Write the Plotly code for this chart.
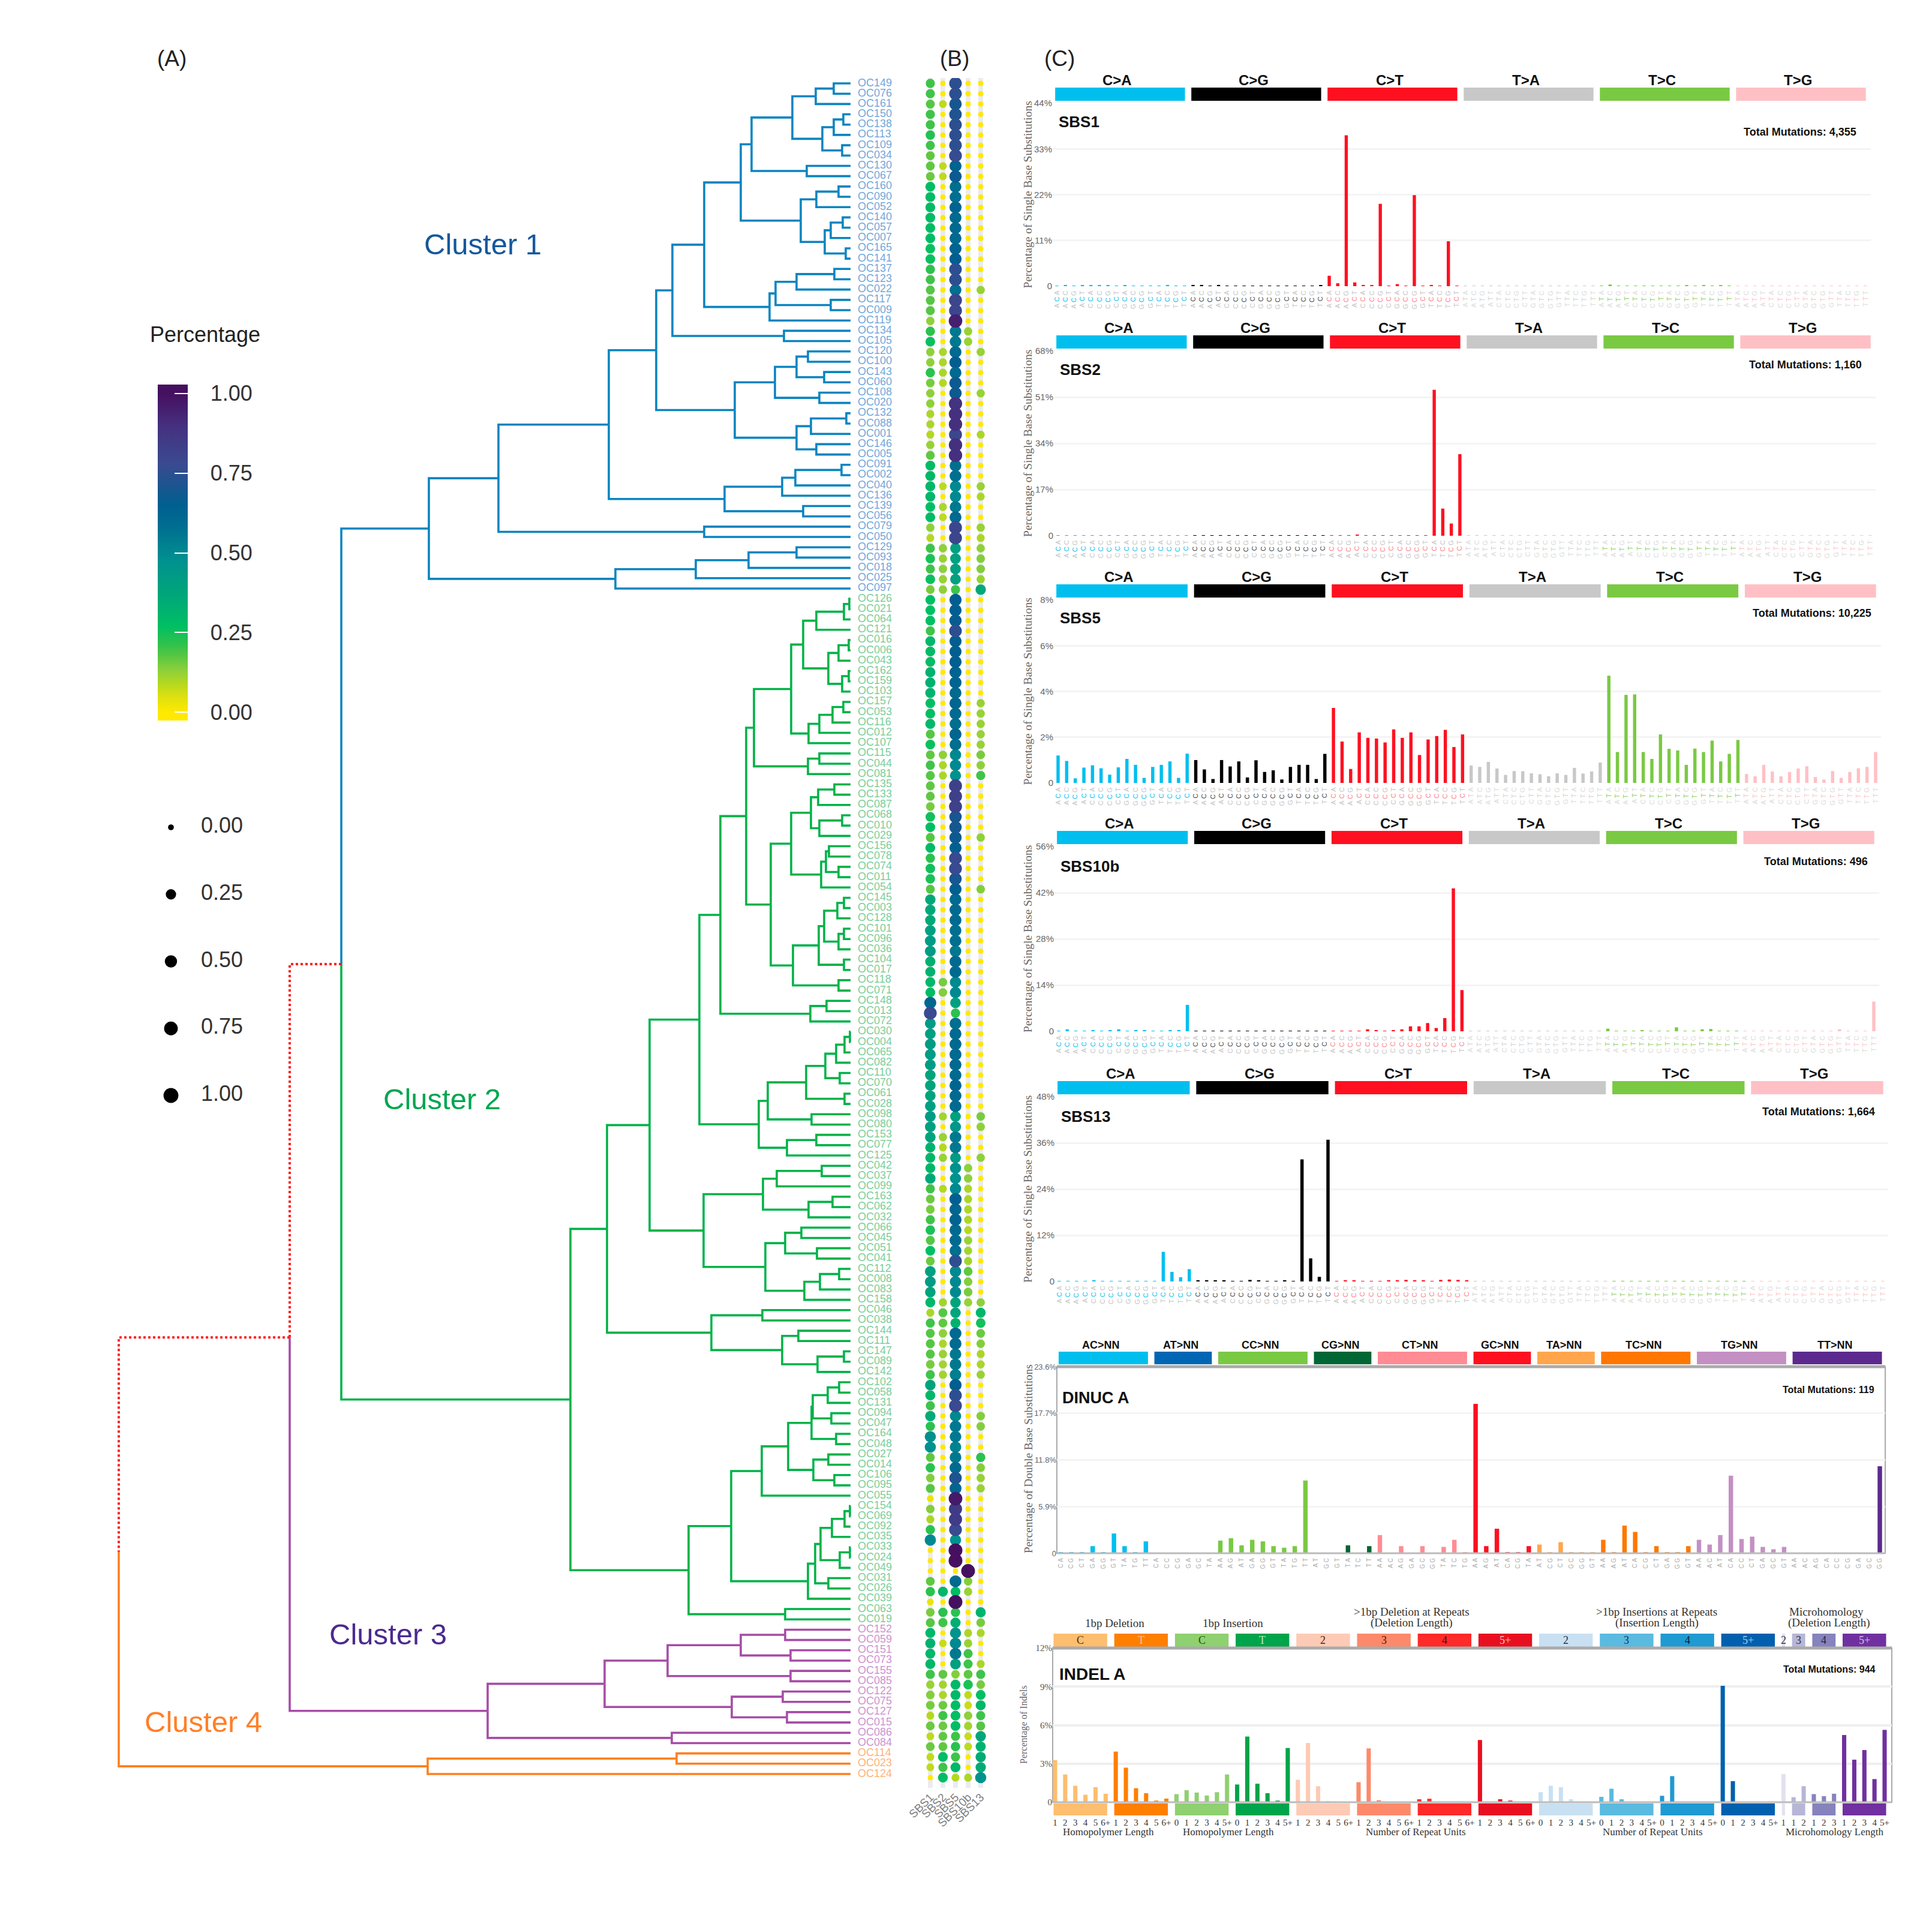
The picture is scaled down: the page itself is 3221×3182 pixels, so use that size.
import plotly.graph_objects as go

W, H = 3221, 3182
SANS = "Liberation Sans"
SERIF = "Liberation Serif"

# ---------- dendrogram: [merge height, upper child, lower child] ----------
B1 = [165, [97, [58, [28, "OC149", "OC076"], "OC161"], [47, [28, [12, "OC150", "OC138"], "OC113"], [14, "OC109", "OC034"]]], [73, "OC130", "OC067"]]
B2 = [83, [57, [20, "OC160", "OC090"], "OC052"], [43, [33, [13, "OC140", "OC057"], "OC007"], [8, "OC165", "OC141"]]]
B3 = [135, [125, [90, [27, "OC137", "OC123"], "OC022"], [33, "OC117", "OC009"]], "OC119"]
B4 = [297, [244, [183, B1, B2], B3], [111, "OC134", "OC105"]]
B5 = [193, [126, [90, [71, "OC120", "OC100"], [44, "OC143", "OC060"]], [52, "OC108", "OC020"]], [90, [66, [7, "OC132", "OC088"], "OC001"], [57, "OC146", "OC005"]]]
B6 = [210, [114, [92, [15, "OC091", "OC002"], "OC040"], "OC136"], [79, "OC139", "OC056"]]
B7 = [244, "OC079", "OC050"]
B8 = [392, [258, [170, [90, "OC129", "OC093"], "OC018"], "OC025"], "OC097"]
BLUE = [703, [587, [403, [324, B4, B5], B6], B7], B8]

G1 = [99, [79, [57, [11, [2, "OC126", "OC021"], "OC064"], "OC121"], [37, [20, [3, "OC016", "OC006"], "OC043"], [14, [3, "OC162", "OC159"], "OC103"]]], [70, [52, [30, [12, "OC157", "OC053"], "OC116"], "OC012"], "OC107"]]
G2 = [71, [52, "OC115", "OC044"], "OC081"]
G3 = [99, [66, [54, [27, "OC135", "OC133"], "OC087"], [52, [14, "OC068", "OC010"], "OC029"]], [49, [41, [36, "OC156", "OC078"], [20, "OC074", "OC011"]], "OC054"]]
G4 = [96, [53, [44, [22, [11, "OC145", "OC003"], "OC128"], [20, [11, "OC101", "OC096"], "OC036"]], [11, "OC104", "OC017"]], [20, "OC118", "OC071"]]
G5 = [67, [40, "OC148", "OC013"], "OC072"]
G6 = [153, [138, [74, [42, [24, [10, [1, "OC030", "OC004"], "OC065"], "OC082"], [18, "OC110", "OC070"]], [10, "OC061", "OC028"]], [65, "OC098", "OC080"]], [106, [57, "OC153", "OC077"], "OC125"]]
G7 = [245, [146, [123, [48, "OC042", "OC037"], "OC099"], [70, [30, "OC163", "OC062"], "OC032"]], [142, [109, [82, "OC066", "OC045"], [56, "OC051", "OC041"]], [77, [51, [19, "OC112", "OC008"], "OC083"], "OC158"]]]
G8 = [232, [147, "OC046", "OC038"], [114, [87, "OC144", "OC111"], [55, [11, "OC147", "OC089"], "OC142"]]]
G9 = [148, [104, [65, [63, [38, [19, "OC102", "OC058"], "OC131"], [32, "OC094", "OC047"]], [24, "OC164", "OC048"]], [62, [37, "OC027", "OC014"], [27, "OC106", "OC095"]]], "OC055"]
G10 = [71, [59, [50, [31, [10, [1, "OC154", "OC069"], "OC092"], "OC035"], [18, [1, "OC033", "OC024"], "OC049"]], [37, "OC031", "OC026"]], "OC039"]
G11 = [109, "OC063", "OC019"]
GREEN = [467, [406, [335, [252, [217, [174, [161, G1, G2], [133, G3, G4]], G5], G6], G7], G8], [270, [199, G9, G10], G11]]

PURPLE = [605, [410, [305, [183, [109, "OC152", "OC059"], [100, "OC151", "OC073"]], [100, "OC155", "OC085"]], [198, [113, "OC122", "OC075"], [106, "OC127", "OC015"]]], [298, "OC086", "OC084"]]
ORANGE = [705, [290, "OC114", "OC023"], "OC124"]
ROOT = [1220, [935, [849, BLUE, GREEN], PURPLE], ORANGE]

# ---------- dot matrix, rows in leaf order ----------
SBS1_PCT = [
 .2,.2,.18,.2,.2,.23,.2,.17,.17,.16,.28,.28,.28,.28,.28,.28,.26,.26,.22,.2,
 .18,.18,.18,.13,.22,.26,.13,.13,.22,.15,.13,.13,.1,.1,.09,.12,.17,.28,.3,.3,
 .3,.27,.28,.13,.09,.2,.24,.2,.26,.15,
 .27,.27,.27,.2,.3,.28,.28,.32,.33,.32,.27,.27,.3,.18,.26,.17,.2,.18,.17,.17,
 .15,.25,.27,.18,.28,.22,.25,.24,.18,.36,.36,.36,.4,.42,.42,.33,.32,.3,.28,.62,
 .78,.42,.4,.42,.42,.42,.38,.38,.38,.4,.42,.4,.38,.32,.3,.3,.36,.2,.16,.15,
 .2,.24,.18,.27,.16,.4,.42,.38,.3,.1,.2,.18,.18,.18,.15,.2,.38,.3,.2,.35,
 .22,.48,.47,.17,.22,.14,.18,.03,.14,.1,.22,.5,0,0,0,.17,.22,.03,.15,.18,
 .3,.32,.3,.3,.2,.12,.14,.15,.09,.16,.08,.16,
 .08,.08,0]
SBS2_PCT = [
 0,0,.08,0,0,0,0,0,.08,.08,0,0,0,0,0,0,0,0,0,0,
 0,0,0,0,0,0,.1,.1,.1,.09,0,0,0,0,0,0,0,0,0,.08,
 0,.1,.08,0,0,.13,.12,.13,.12,.13,
 0,0,0,0,0,0,0,0,0,0,0,0,0,0,0,.13,.1,.1,0,0,
 0,0,0,0,0,0,0,0,0,0,0,0,0,0,0,0,0,.15,.14,0,
 0,0,0,0,0,0,0,0,0,0,.11,0,.12,.09,.12,0,0,.09,0,0,
 0,0,0,0,0,0,0,0,.11,.18,.17,.13,.1,.12,.11,.11,0,0,0,0,
 0,0,0,0,0,0,0,0,0,0,0,0,0,0,0,0,.3,0,.22,.2,
 0,.07,0,0,.17,.11,.1,.16,.2,.16,.17,.17,
 .28,.2,.28]
SBS5_PCT = [
 .75,.75,.7,.72,.75,.75,.75,.77,.63,.68,.58,.58,.63,.6,.6,.6,.63,.65,.75,.75,
 .58,.8,.8,.95,.55,.55,.6,.66,.6,.68,.68,.88,.9,.9,.8,.9,.9,.58,.58,.5,
 .5,.55,.6,.8,.8,.4,.4,.4,.4,.2,
 .65,.65,.67,.75,.65,.65,.65,.63,.63,.6,.62,.6,.58,.62,.58,.5,.5,.47,.82,.82,
 .82,.7,.7,.68,.64,.78,.78,.7,.65,.6,.6,.6,.58,.58,.55,.6,.6,.5,.5,.4,
 .22,.58,.6,.6,.6,.6,.6,.62,.6,.6,.4,.45,.55,.55,.42,.47,.47,.5,.65,.62,
 .63,.6,.6,.58,.75,.5,.5,.5,.38,.38,.32,.6,.6,.55,.55,.53,.65,.75,.78,.5,
 .55,.55,.52,.55,.6,.72,.62,.97,.85,.85,.78,.47,1,1,0,.6,.28,1,.22,.33,
 .46,.5,.55,.4,.14,.3,.3,.28,.28,.28,.2,.22,
 .2,.3,.09]
SBS10B_PCT = [
 0,0,0,0,0,0,0,0,0,0,0,0,0,0,0,0,0,0,0,0,
 0,0,0,0,.12,.12,0,0,0,0,0,0,0,0,0,0,0,0,0,0,
 0,0,0,0,0,0,0,0,0,0,
 0,0,0,0,0,0,0,0,0,0,0,0,0,0,0,0,0,0,0,0,
 0,0,0,0,0,0,0,0,0,0,0,0,0,0,0,0,0,0,0,0,
 0,0,0,0,0,0,0,0,0,0,0,0,0,0,0,.13,.13,.1,.1,.1,
 .1,.09,.12,.11,.11,.17,.14,.15,.12,0,0,0,0,0,0,0,0,0,0,0,
 0,0,0,0,0,0,0,0,0,0,0,0,0,0,1,.14,.12,0,0,0,
 .1,.12,.2,.2,.17,.24,.08,.07,.13,.11,.07,.08,
 0,0,.1]
SBS13_PCT = [
 0,0,0,0,0,0,0,0,0,0,0,0,0,0,0,0,0,0,0,0,
 .12,0,0,0,0,0,.12,0,0,0,.12,0,0,0,.1,0,0,0,0,.12,
 .1,0,0,.12,.1,.13,.14,.14,.12,.36,
 0,0,0,0,0,0,0,0,0,0,.12,.12,.12,.12,.12,.15,.13,.2,0,0,
 0,0,0,.13,0,0,0,0,.14,0,0,0,0,0,0,0,0,0,0,0,
 0,0,0,0,0,0,0,0,0,0,.15,.13,0,0,.13,0,0,0,0,0,
 0,0,0,0,0,0,0,0,.13,.3,.25,.16,.14,.1,.1,.12,0,0,0,.14,
 .14,0,0,.22,.14,.12,.12,0,0,0,0,0,0,0,0,0,0,0,.32,.15,
 .1,0,0,.1,.2,.15,.27,.3,.2,.18,.37,.32,
 .35,.35,.47]
DOT_NAMES = ["SBS1", "SBS2", "SBS5", "SBS10b", "SBS13"]

# ---------- signature panels ----------
SBS_GROUPS = ["C>A", "C>G", "C>T", "T>A", "T>C", "T>G"]
SBS_COLORS = ["#00BFEF", "#000000", "#FF1020", "#C8C8C8", "#7AC943", "#FFC0C5"]
SBS_MID_COLORS = ["#00BFEF", "#444444", "#FF7A84", "#D0D0D0", "#8CD05A", "#FFC0C5"]
BASES = ["A", "C", "G", "T"]

SBS1_VALUES = [
 .1,.3,.1,.2,.2,.2,.2,.1,.2,.1,.1,.1,.1,.3,.1,.1,
 .3,.3,.1,.3,.1,.1,.1,.05,.1,.1,.1,.05,.05,.1,.1,.2,
 2.5,.7,36.3,.9,.3,.2,19.8,.1,.5,.1,21.9,.1,.3,.1,10.8,.1,
 .05,.05,.05,.05,.05,.05,.05,.05,.05,.05,.05,.05,.05,.05,.05,.05,
 .1,.4,.1,.1,.1,.1,.1,.1,.1,.1,.2,.1,.2,.1,.2,.1,
 .05,.05,.05,.05,.05,.05,.05,.05,.05,.05,.05,.05,.05,.05,.05,.05]
SBS2_VALUES = [
 .1,.1,.1,.1,.1,.1,.1,.1,.1,.1,.1,.1,.1,.1,.1,.1,
 .1,.1,.1,.1,.1,.1,.1,.1,.1,.1,.1,.1,.1,.1,.1,.1,
 .1,.2,.1,.3,.1,.1,.2,.1,.1,.1,.1,.1,53.7,10,4.5,30,
 .05,.05,.05,.05,.05,.05,.05,.05,.05,.05,.05,.05,.05,.05,.05,.05,
 .05,.05,.05,.05,.05,.05,.05,.05,.05,.05,.05,.05,.05,.05,.05,.05,
 .05,.05,.05,.05,.05,.05,.05,.05,.05,.05,.05,.05,.05,.05,.05,.05]
SBS5_VALUES = [
 1.2,.96,.2,.67,.77,.64,.36,.68,1.05,.79,.22,.7,.79,.94,.22,1.28,
 1.0,.59,.17,1.0,.72,.94,.24,.99,.48,.55,.15,.7,.79,.79,.17,1.27,
 3.28,1.81,.61,2.21,1.97,1.94,1.77,2.34,1.97,2.21,1.22,1.9,2.05,2.32,1.57,2.12,
 .76,.7,.92,.63,.35,.52,.51,.42,.38,.29,.42,.35,.66,.41,.5,.89,
 4.69,1.35,3.85,3.87,1.35,1.05,2.12,1.49,1.42,.79,1.5,1.35,1.85,.94,1.27,1.88,
 .39,.29,.79,.5,.29,.48,.63,.73,.26,.15,.52,.22,.48,.64,.7,1.35]
SBS10B_VALUES = [
 .1,.6,.1,.1,.2,.1,.3,.6,.1,.2,.2,.1,.1,.2,.2,8.0,
 .05,.05,.05,.05,.05,.05,.05,.05,.05,.05,.05,.05,.05,.05,.05,.05,
 .1,.1,.1,.1,.6,.2,.1,.3,.6,1.5,1.5,2.5,1,4,43.3,12.5,
 .05,.05,.05,.05,.05,.05,.05,.05,.05,.05,.05,.05,.05,.05,.05,.05,
 .8,.1,.1,.1,.3,.1,.1,.1,1.2,.1,.1,.6,.7,.1,.1,.1,
 .05,.05,.05,.05,.05,.05,.05,.05,.05,.05,.05,.6,.05,.05,.05,9.0]
SBS13_VALUES = [
 .1,.1,.1,.1,.2,.1,.1,.1,.1,.1,.1,.1,7.7,2.5,1.1,3.2,
 .3,.2,.3,.2,.1,.1,.4,.2,.1,.1,.2,.1,31.7,6,1.2,36.8,
 .1,.2,.3,.1,.1,.1,.3,.2,.4,.2,.2,.1,.4,.5,.4,.2,
 .05,.05,.05,.05,.05,.05,.05,.05,.05,.05,.05,.05,.05,.05,.05,.05,
 .05,.05,.05,.05,.05,.05,.05,.05,.05,.05,.05,.05,.05,.05,.05,.05,
 .05,.05,.05,.05,.05,.05,.05,.05,.05,.05,.05,.05,.05,.05,.05,.05]

DINUC_GROUPS = ["AC>NN", "AT>NN", "CC>NN", "CG>NN", "CT>NN", "GC>NN", "TA>NN", "TC>NN", "TG>NN", "TT>NN"]
DINUC_COLORS = ["#00BFEF", "#0066B3", "#7AC943", "#006633", "#FF8C94", "#FF1020", "#FFA64D", "#FF7700", "#C490C4", "#5C2A8E"]
DINUC_LABELS = [
 ["CA","CG","CT","GA","GG","GT","TA","TG","TT"],
 ["CA","CC","CG","GA","GC","TA"],
 ["AA","AG","AT","GA","GG","GT","TA","TG","TT"],
 ["AT","GC","GT","TA","TC","TT"],
 ["AA","AC","AG","GA","GC","GG","TA","TC","TG"],
 ["AA","AG","AT","CA","CG","TA"],
 ["AT","CG","CT","GC","GG","GT"],
 ["AA","AG","AT","CA","CG","CT","GA","GG","GT"],
 ["AA","AC","AT","CA","CC","CT","GA","GC","GT"],
 ["AA","AC","AG","CA","CC","CG","GA","GC","GG"]]
DINUC_VALUES = [
 .1,.1,.1,.9,.1,2.5,.9,.1,1.5,
 .05,.05,.05,.05,.05,.05,
 1.6,1.9,1.0,1.7,1.5,.9,.7,.9,9.2,
 .05,.05,.05,1.0,.05,.9,
 2.3,.05,.9,.05,.9,.05,.8,1.7,.1,
 18.9,.9,3.1,.1,.1,.9,
 1.1,.1,1.4,.1,.1,.1,
 1.7,.1,3.5,2.7,.1,.9,.1,.1,.9,
 1.7,1.1,2.3,9.8,1.8,2.1,.8,.5,.8,
 .05,.05,.05,.05,.05,.05,.05,.05,11.0]

INDEL_GROUPS = ["C","T","C","T","2","3","4","5+","2","3","4","5+","2","3","4","5+"]
INDEL_SIZES = [6,6,6,6,6,6,6,6,6,6,6,6,1,2,3,5]
INDEL_COLORS = ["#FDBE6F","#FF7F00","#8FD070","#00A44A","#FDCAB5","#FC8A6A","#FF2A2A","#E81020",
                "#C8E0F2","#5ABAE0","#1F9AD2","#0060AE","#E2E2EF","#B6B6D8","#8683BD","#7030A0"]
INDEL_TEXT_COLORS = ["#553300","#FFC890","#225500","#B0F0C0","#552200","#551100","#660000","#FFC0C0",
                     "#223344","#113355","#002244","#A0D0F0","#333333","#333333","#222244","#D0C0E0"]
INDEL_TICKS = [
 ["1","2","3","4","5","6+"],["1","2","3","4","5","6+"],
 ["0","1","2","3","4","5+"],["0","1","2","3","4","5+"],
 ["1","2","3","4","5","6+"],["1","2","3","4","5","6+"],["1","2","3","4","5","6+"],["1","2","3","4","5","6+"],
 ["0","1","2","3","4","5+"],["0","1","2","3","4","5+"],["0","1","2","3","4","5+"],["0","1","2","3","4","5+"],
 ["1"],["1","2"],["1","2","3"],["1","2","3","4","5+"]]
INDEL_VALUES = [
 3.28,2.16,1.28,.58,1.17,.66,
 3.94,2.69,1.09,.7,.13,.28,
 .63,.94,.75,.52,.78,2.16,
 1.38,5.11,1.44,.7,.13,4.22,
 1.75,4.61,1.25,.05,.03,.03,
 1.56,4.19,.16,.03,.03,.03,
 .23,.27,.03,.03,.03,.03,
 4.84,.03,.23,.13,.03,.03,
 .78,1.28,1.17,.23,.03,.03,
 .42,1.05,.23,.03,.03,.03,
 .5,2.03,.03,.03,.03,.03,
 9.06,1.64,.03,.03,.03,.03,
 2.19,
 .39,1.25,
 .63,.47,.66,
 5.23,3.31,4.06,1.8,5.63]

LEGEND_VALUES = [0, .25, .5, .75, 1]
COLOR_STOPS = [(0,"#FFE900"),(.05,"#DDE010"),(.09,"#B4D820"),(.13,"#8FD03A"),(.17,"#5FC840"),(.21,"#33C24A"),
               (.27,"#00BF63"),(.36,"#00A878"),(.48,"#009090"),(.58,"#006F90"),(.65,"#005F90"),(.78,"#3A4A90"),
               (.9,"#45307F"),(1,"#45105F")]

# ---------- helpers ----------
def fx(px): return px / W
def fy(px): return 1 - px / H

layout = dict(width=W, height=H, margin=dict(l=0, r=0, t=0, b=0, autoexpand=False), paper_bgcolor="white", plot_bgcolor="white",
              showlegend=False, font=dict(family=SANS, color="#222222"), barmode="overlay")
annotations, shapes = [], []
traces = []

def add_axes(n, xpx, ypx, xr, yr, xkw=None, ykw=None):
    base = dict(showgrid=False, zeroline=False, showline=False, showticklabels=False, ticks="")
    xa = dict(base, domain=[fx(xpx[0]), fx(xpx[1])], range=xr, anchor=f"y{n}")
    ya = dict(base, domain=[fy(ypx[1]), fy(ypx[0])], range=yr, anchor=f"x{n}")
    xa.update(xkw or {}); ya.update(ykw or {})
    layout["xaxis" if n == 1 else f"xaxis{n}"] = xa
    layout["yaxis" if n == 1 else f"yaxis{n}"] = ya

def note(px, py, text, size, color="#222222", anchor="center", family=SANS, bold=False, angle=0, xref=None, x=None):
    annotations.append(dict(x=fx(px) if xref is None else x, xref=xref or "paper", y=fy(py), yref="paper", text=f"<b>{text}</b>" if bold else text,
                            showarrow=False, xanchor=anchor, yanchor="middle", textangle=angle,
                            font=dict(family=family, size=size, color=color)))

def strip(n, x0, x1, ytop, ybot, color):
    shapes.append(dict(type="rect", xref=f"x{n}", yref="paper", x0=x0, x1=x1, y0=fy(ybot), y1=fy(ytop),
                       fillcolor=color, line=dict(width=0), layer="below"))

# ---------- dendrogram ----------
CLUSTER_COLORS = {id(BLUE): "#0A84C0", id(GREEN): "#00B248", id(PURPLE): "#A64CA6", id(ORANGE): "#FF7F1E"}
LABEL_COLORS = {"#0A84C0": "#6FA8DC", "#00B248": "#78CF9C", "#A64CA6": "#CB93D2", "#FF7F1E": "#FFB27A"}
RED = "#FF2020"
segments = {c: ([], []) for c in list(CLUSTER_COLORS.values()) + [RED]}
leaf_names, leaf_colors = [], []

def walk(node, color):
    if isinstance(node, str):
        leaf_names.append(node); leaf_colors.append(color)
        return len(leaf_names) - 1, 0
    h, a, b = node
    ca = color or CLUSTER_COLORS.get(id(a))
    cb = color or CLUSTER_COLORS.get(id(b))
    ya, ha = walk(a, ca)
    yb, hb = walk(b, cb)
    y = (ya + yb) / 2
    for yc, hc, c in ((ya, ha, ca), (yb, hb, cb)):
        xs, ys = segments[c or RED]
        xs += [hc, h, h, None]; ys += [yc, yc, y, None]
    return y, h

walk(ROOT, None)
TIP = 1418
ROW0, ROWN = 139, 2957
step = (ROWN - ROW0) / 164
add_axes(1, (180, 1500), (130, 2970), [TIP - 180, TIP - 1500], [(2970 - ROW0) / step, (130 - ROW0) / step])
for c, (xs, ys) in segments.items():
    traces.append(go.Scatter(x=xs, y=ys, mode="lines", xaxis="x", yaxis="y", hoverinfo="skip",
                             line=dict(color=c, width=4 if c == RED else 3.6, dash="dot" if c == RED else "solid")))
for c in CLUSTER_COLORS.values():
    idx = [i for i, k in enumerate(leaf_colors) if k == c]
    traces.append(go.Scatter(x=[-12] * len(idx), y=idx, text=[leaf_names[i] for i in idx], mode="text",
                             textposition="middle right", textfont=dict(family=SANS, size=18, color=LABEL_COLORS[c]),
                             xaxis="x", yaxis="y", hoverinfo="skip"))

# ---------- dot matrix ----------
def dot_size(v): return 9 + 14 * v ** 0.5
cmin, cmax = -0.026, 1.028
def pos(v): return (v - cmin) / (cmax - cmin)
colorscale = [[0, COLOR_STOPS[0][1]]] + [[pos(v), c] for v, c in COLOR_STOPS] + [[1, COLOR_STOPS[-1][1]]]
DOT0, DOTN = 139, 2963
dstep = (DOTN - DOT0) / 164
add_axes(2, (1530, 1656), (130, 2980), [-1, 5], [(2980 - DOT0) / dstep, (130 - DOT0) / dstep],
         xkw=dict(showgrid=True, gridcolor="#EBEBF0", gridwidth=8, tickmode="array", tickvals=list(range(5)), ticktext=DOT_NAMES,
                  showticklabels=True, tickangle=-45, tickfont=dict(family=SANS, size=19, color="#808080"), ticks=""))
dot_cols = [SBS1_PCT, SBS2_PCT, SBS5_PCT, SBS10B_PCT, SBS13_PCT]
dx, dy, dv = [], [], []
for c, col in enumerate(dot_cols):
    for r, v in enumerate(col):
        dx.append(c); dy.append(r); dv.append(v)
order = sorted(range(len(dv)), key=lambda i: dv[i])
traces.append(go.Scatter(x=[dx[i] for i in order], y=[dy[i] for i in order], mode="markers", xaxis="x2", yaxis="y2", hoverinfo="skip",
    marker=dict(size=[dot_size(dv[i]) for i in order], color=[dv[i] for i in order], colorscale=colorscale, cmin=cmin, cmax=cmax, line=dict(width=0),
                opacity=1, showscale=True,
                colorbar=dict(x=fx(263), xanchor="left", y=fy(641), yanchor="top", len=560 / H, lenmode="fraction", thickness=50, thicknessmode="pixels",
                              outlinewidth=0, xpad=0, ypad=0, tickmode="array", tickvals=LEGEND_VALUES,
                              ticktext=["\u00a0\u00a0\u00a0" + f"{v:.2f}" for v in LEGEND_VALUES], ticks="inside", tickcolor="white", ticklen=22, tickwidth=2,
                              tickfont=dict(family=SANS, size=36, color="#333333")))))
note(248, 557, "Percentage", 36, anchor="left", color="#222222")

# ---------- size legend ----------
L0, L1 = 1379, 1826
add_axes(3, (250, 430), (1350, 1860), [-35, 145], [(1860 - L0) / (L1 - L0), (1350 - L0) / (L1 - L0)])
traces.append(go.Scatter(x=[0] * 5, y=LEGEND_VALUES, mode="markers", xaxis="x3", yaxis="y3", hoverinfo="skip",
                         marker=dict(color="black", opacity=1, size=[dot_size(v) * 1.08 for v in LEGEND_VALUES], line=dict(width=0))))
traces.append(go.Scatter(x=[50] * 5, y=LEGEND_VALUES, text=[f"{v:.2f}" for v in LEGEND_VALUES], mode="text", textposition="middle right",
                         textfont=dict(family=SANS, size=36, color="#333333"), xaxis="x3", yaxis="y3", hoverinfo="skip"))

# ---------- letters and cluster names ----------
note(260, 98, "(A)", 37, anchor="left")
note(1565, 98, "(B)", 37, anchor="left")
note(1739, 98, "(C)", 37, anchor="left")
note(805, 407, "Cluster 1", 49, color="#14589C")
note(737, 1832, "Cluster 2", 49, color="#00A651")
note(647, 2724, "Cluster 3", 49, color="#4B2A8F")
note(339, 2870, "Cluster 4", 49, color="#FF7F27")

# ---------- SBS panels ----------
def context_label(i):
    g = i // 16
    a, b = BASES[(i % 16) // 4], BASES[i % 4]
    fl = "#C4C4C4" if g < 3 else "#DADADA"
    return (f'<span style="color:{fl}">{a}</span>\u00a0<span style="color:{SBS_MID_COLORS[g]}">{"C" if g < 3 else "T"}</span>'
            f'\u00a0<span style="color:{fl}">{b}</span>')

context_labels = [context_label(i) for i in range(96)]
sbs_bar_colors = [c for c in SBS_COLORS for _ in range(16)]

SBS_PANELS = [
    ("SBS1", SBS1_VALUES, [0, 11, 22, 33, 44], "Total Mutations: 4,355", 1762, 3110, 172, 477, 203, 3097, 220),
    ("SBS2", SBS2_VALUES, [0, 17, 34, 51, 68], "Total Mutations: 1,160", 1764, 3118, 585, 893, 616, 3106, 608),
    ("SBS5", SBS5_VALUES, [0, 2, 4, 6, 8], "Total Mutations: 10,225", 1764, 3127, 1000, 1305, 1030, 3122, 1022),
    ("SBS10b", SBS10B_VALUES, [0, 14, 28, 42, 56], "Total Mutations: 496", 1765, 3124, 1411, 1719, 1444, 3116, 1436),
    ("SBS13", SBS13_VALUES, [0, 12, 24, 36, 48], "Total Mutations: 1,664", 1766, 3139, 1828, 2136, 1861, 3128, 1853),
]

n = 4
for name, vals, yt, total, first, last, ytop, y0, ty, tr, try_ in SBS_PANELS:
    per = (last - first) / 95
    left, right = first - 7, last + 9
    add_axes(n, (left, right), (ytop, y0), [(left - first) / per, (right - first) / per], [0, yt[-1]],
             xkw=dict(tickmode="array", tickvals=list(range(96)), ticktext=context_labels, showticklabels=True, tickangle=-90,
                      tickfont=dict(family=SANS, size=11, color="#BBBBBB"), ticks="outside", ticklen=2, tickcolor="rgba(0,0,0,0)"),
             ykw=dict(showgrid=True, gridcolor="#F4F4F4", gridwidth=3, tickmode="array", tickvals=yt, showticklabels=True,
                      ticktext=["0" if v == 0 else f"{v}%" for v in yt], tickfont=dict(family=SANS, size=15, color="#666666")))
    traces.append(go.Bar(x=list(range(96)), y=vals, width=.38, xaxis=f"x{n}", yaxis=f"y{n}", hoverinfo="skip",
                         marker=dict(color=sbs_bar_colors, line=dict(width=0))))
    for g, lab in enumerate(SBS_GROUPS):
        i0 = g * 16
        strip(n, i0 - .2, i0 + 15.05, ytop - 26, ytop - 4, SBS_COLORS[g])
        note(0, ytop - 39, lab, 24, color="#111111", bold=True, xref=f"x{n}", x=i0 + 7.1)
    note(first + 1, ty, name, 26, color="#111111", anchor="left", bold=True)
    note(tr, try_, total, 18, color="#111111", anchor="right", bold=True)
    note(1713, (ytop + y0) / 2, "Percentage of Single Base Substitutions", 19.6, color="#666666", family=SERIF, angle=-90)
    n += 1

# ---------- DINUC ----------
dinuc_sizes = [len(v) for v in DINUC_LABELS]
dinuc_ticks = [t[0] + "\u00a0" + t[1] for grp in DINUC_LABELS for t in grp]
dinuc_bar_colors = [c for c, s in zip(DINUC_COLORS, dinuc_sizes) for _ in range(s)]
first, last, ytop, y0 = 1768.5, 3134, 2278, 2589
per = (last - first) / 77
left, right = 1762, 3143
add_axes(n, (left, right), (ytop, y0), [(left - first) / per, (right - first) / per], [0, 23.6],
         xkw=dict(tickmode="array", tickvals=list(range(78)), ticktext=dinuc_ticks, showticklabels=True, tickangle=-90,
                  tickfont=dict(family=SANS, size=10, color="#AAAAAA"), ticks="outside", ticklen=3, tickcolor="rgba(0,0,0,0)"),
         ykw=dict(showgrid=True, gridcolor="#F4F4F4", gridwidth=3, tickmode="array", tickvals=[0, 5.9, 11.8, 17.7, 23.6], showticklabels=True,
                  ticktext=["0", "5.9%", "11.8%", "17.7%", "23.6%"], tickfont=dict(family=SANS, size=13, color="#666666")))
traces.append(go.Bar(x=list(range(78)), y=DINUC_VALUES, width=.42, xaxis=f"x{n}", yaxis=f"y{n}", hoverinfo="skip",
                     marker=dict(color=dinuc_bar_colors, line=dict(width=0))))
i0 = 0
for lab, s, c in zip(DINUC_GROUPS, dinuc_sizes, DINUC_COLORS):
    strip(n, i0 - .2, i0 + s - 1 + .2, 2253, 2274, c)
    note(0, 2242, lab, 18, color="#111111", bold=True, xref=f"x{n}", x=i0 + (s - 1) / 2 - .2)
    i0 += s
shapes.append(dict(type="rect", xref="paper", yref="paper", x0=fx(left), x1=fx(right), y0=fy(y0), y1=fy(ytop), line=dict(color="#AAAAAA", width=2), layer="below"))
shapes.append(dict(type="line", xref="paper", yref="paper", x0=fx(left), x1=fx(right), y0=fy(ytop), y1=fy(ytop), line=dict(color="#AAAAAA", width=5)))
shapes.append(dict(type="line", xref="paper", yref="paper", x0=fx(left), x1=fx(right), y0=fy(y0), y1=fy(y0), line=dict(color="#BBBBBB", width=3)))
note(1769, 2330, "DINUC A", 27, color="#111111", anchor="left", bold=True)
note(3127, 2316, "Total Mutations: 119", 16, color="#111111", anchor="right", bold=True)
note(1714, 2432, "Percentage of Double Base Substitutions", 19.3, color="#666666", family=SERIF, angle=-90)
n += 1

# ---------- INDEL ----------
indel_ticks = [t for grp in INDEL_TICKS for t in grp]
indel_bar_colors = [c for c, s in zip(INDEL_COLORS, INDEL_SIZES) for _ in range(s)]
first, last, ytop, y0 = 1759, 3142, 2747, 3004
per = (last - first) / 82
left, right = 1755, 3154
add_axes(n, (left, right), (ytop, y0), [(left - first) / per, (right - first) / per], [0, 12],
         xkw=dict(tickmode="array", tickvals=list(range(83)), ticktext=indel_ticks, showticklabels=True, tickangle=0,
                  tickfont=dict(family=SERIF, size=15, color="#333333"), ticks="outside", ticklen=20, tickcolor="rgba(0,0,0,0)"),
         ykw=dict(showgrid=True, gridcolor="#EFEFEF", gridwidth=4, tickmode="array", tickvals=[0, 3, 6, 9, 12], showticklabels=True,
                  ticktext=["0", "3%", "6%", "9%", "12%"], tickfont=dict(family=SERIF, size=15, color="#555555")))
traces.append(go.Bar(x=list(range(83)), y=INDEL_VALUES, width=.42, xaxis=f"x{n}", yaxis=f"y{n}", hoverinfo="skip",
                     marker=dict(color=indel_bar_colors, line=dict(width=0))))
i0 = 0
for lab, s, c, tc in zip(INDEL_GROUPS, INDEL_SIZES, INDEL_COLORS, INDEL_TEXT_COLORS):
    strip(n, i0 - .15, i0 + s - 1 + .15, 2723, 2745, c)
    strip(n, i0 - .15, i0 + s - 1 + .15, 3006, 3026, c)
    note(0, 2734, lab, 18, color=tc, family=SERIF, xref=f"x{n}", x=i0 + (s - 1) / 2)
    i0 += s
shapes.append(dict(type="rect", xref="paper", yref="paper", x0=fx(left), x1=fx(right), y0=fy(y0), y1=fy(ytop), line=dict(color="#AAAAAA", width=2), layer="below"))
shapes.append(dict(type="line", xref="paper", yref="paper", x0=fx(left), x1=fx(right), y0=fy(ytop), y1=fy(ytop), line=dict(color="#AAAAAA", width=5)))
shapes.append(dict(type="line", xref="paper", yref="paper", x0=fx(left), x1=fx(right), y0=fy(y0), y1=fy(y0), line=dict(color="#BBBBBB", width=3)))
note(1764, 2790, "INDEL A", 28, color="#111111", anchor="left", bold=True)
note(3129, 2782, "Total Mutations: 944", 16, color="#111111", anchor="right", bold=True)
note(1707, 2875, "Percentage of Indels", 16, color="#666666", family=SERIF, angle=-90)
for px, py, t in [(1858, 2705, "1bp Deletion"), (2055, 2705, "1bp Insertion"), (2353, 2686, ">1bp Deletion at Repeats"),
                  (2353, 2705, "(Deletion Length)"), (2762, 2686, ">1bp Insertions at Repeats"), (2762, 2705, "(Insertion Length)"),
                  (3045, 2686, "Microhomology"), (3049, 2705, "(Deletion Length)")]:
    note(px, py, t, 19, color="#333333", family=SERIF)
for px, py, t in [(1848, 3053, "Homopolymer Length"), (2048, 3053, "Homopolymer Length"), (2360, 3053, "Number of Repeat Units"),
                  (2755, 3053, "Number of Repeat Units"), (3058, 3053, "Microhomology Length")]:
    note(px, py, t, 17, color="#333333", family=SERIF)

layout["annotations"] = annotations
layout["shapes"] = shapes
fig = go.Figure(data=traces, layout=layout)
fig.write_html("out.html", config={"displayModeBar": False}, post_script="document.body.style.margin='0';")
